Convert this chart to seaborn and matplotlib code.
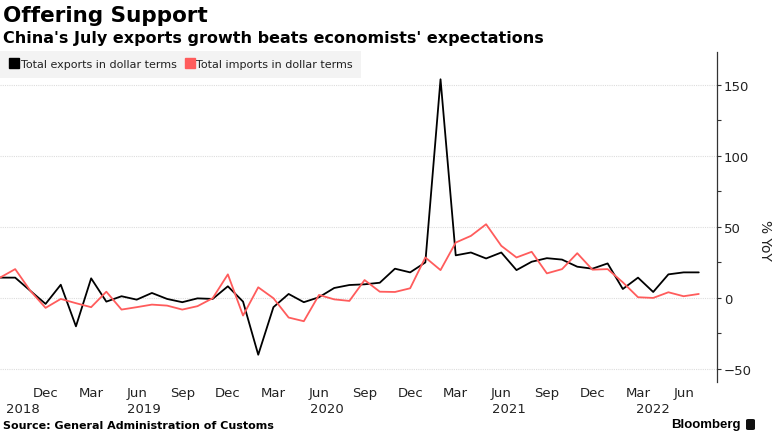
import pandas as pd
import numpy as np
import matplotlib.pyplot as plt
import seaborn as sns
from matplotlib.lines import Line2D
from matplotlib.patches import FancyBboxPatch
import matplotlib.transforms as mtransforms

# monthly data, Sep 2018 .. Jul 2022 (% YoY)
start_year = 2018
start_month = 9
exports = [14.3, 14.3, 5.0, -4.2, 9.3, -20.0, 13.8, -2.6, 1.2, -1.2, 3.5, -0.7,
           -3.0, -0.3, -0.7, 8.2, -2.6, -40.0, -6.5, 2.8, -3.0, 0.5, 7.0, 9.1,
           9.6, 10.7, 20.6, 18.0, 25.0, 154.0, 30.0, 32.0, 27.8, 32.0, 19.6, 25.5,
           28.0, 27.0, 22.0, 20.6, 24.3, 6.3, 14.3, 4.2, 16.6, 18.0, 18.0]
imports = [14.3, 20.3, 5.0, -7.0, -0.7, -3.7, -6.5, 4.4, -8.2, -6.5, -4.7, -5.4,
           -8.2, -5.8, -0.2, 16.6, -12.4, 7.5, -0.2, -13.8, -16.4, 2.1, -1.0, -2.1,
           12.6, 4.4, 4.2, 6.8, 28.5, 19.6, 39.0, 43.7, 51.9, 36.7, 28.5, 32.5,
           17.3, 20.3, 31.5, 19.9, 20.3, 11.0, 0.5, 0.0, 4.0, 1.2, 2.8]
series_names = ["Total exports in dollar terms", "Total imports in dollar terms"]
colors = ["#000000", "#ff5c5c"]
month_names = ["Jan", "Feb", "Mar", "Apr", "May", "Jun",
               "Jul", "Aug", "Sep", "Oct", "Nov", "Dec"]
y_ticks = [-50, 0, 50, 100, 150]

n = len(exports)
idx = np.arange(n)
month_num = [(start_month - 1 + i) % 12 + 1 for i in idx]
year_num = [start_year + (start_month - 1 + i) // 12 for i in idx]

df = pd.DataFrame({"idx": np.concatenate([idx, idx]),
                   "value": exports + imports,
                   "series": [series_names[0]] * n + [series_names[1]] * n})

sns.set_style("white")
plt.rcParams['font.family'] = ['DejaVu Sans']
plt.rcParams['text.color'] = 'black'

fig = plt.figure(figsize=(7.75, 4.35), dpi=100)
ax = fig.add_axes([0.0, 1 - 383 / 435, 717 / 775, (383 - 53) / 435])

sns.lineplot(data=df, x="idx", y="value", hue="series", palette=colors,
             linewidth=1.3, legend=False, ax=ax)

ax.set_xlim(0, 47.2)
ax.set_ylim(-59.2, 173.2)

# right-hand y axis
ax.yaxis.tick_right()
ax.set_yticks(y_ticks)
ax.set_yticks([-25, 25, 75, 125], minor=True)
ax.tick_params(axis="y", which="both", direction="out", length=3, width=0.8,
               color="#333333", labelsize=9.5, pad=2, labelcolor="#222222")
ax.yaxis.grid(True, which="major", color="#dddddd", linestyle=(0, (1, 1)), linewidth=0.8)
ax.xaxis.grid(False)
for s in ["top", "left", "bottom"]:
    ax.spines[s].set_visible(False)
ax.spines["right"].set_color("#333333")
ax.spines["right"].set_linewidth(0.9)
ax.set_xlabel("")
ax.set_ylabel("")
fig.text(765 / 775, 1 - 240 / 435, "% YoY", rotation=270, ha="center", va="center",
         fontsize=10, color="#222222")

# month ticks every quarter
tick_pos = [i for i in idx if month_num[i] in (3, 6, 9, 12) and i > 0]
ax.set_xticks(tick_pos)
ax.set_xticklabels([month_names[month_num[i] - 1] for i in tick_pos],
                   fontsize=9.5, color="#222222")
ax.tick_params(axis="x", length=0, pad=3)

# year labels centred on each year's span
trans = mtransforms.blended_transform_factory(ax.transData, fig.transFigure)
for yr in sorted(set(year_num)):
    pos = [i for i in idx if year_num[i] == yr]
    ax.text((pos[0] + pos[-1]) / 2, 1 - 410 / 435, str(yr), transform=trans,
            ha="center", va="center", fontsize=9.5, color="#222222")

# titles
fig.text(3 / 775, 1 - 16 / 435, "Offering Support", fontsize=15.5, fontweight="bold",
         ha="left", va="center")
fig.text(3 / 775, 1 - 39 / 435, "China's July exports growth beats economists' expectations",
         fontsize=11.5, fontweight="bold", ha="left", va="center")

# legend
handles = [Line2D([], [], marker="s", linestyle="none", color=c, markersize=6.5)
           for c in colors]
leg = fig.legend(handles, series_names, loc="upper left",
                 bbox_to_anchor=(0, 1 - 52 / 435), ncol=2, frameon=True,
                 fontsize=8, handletextpad=0.1, columnspacing=0.7,
                 handlelength=1.0, borderpad=0.75, borderaxespad=0)
leg.get_frame().set_facecolor("#f0f0f0")
leg.get_frame().set_edgecolor("none")
leg.get_frame().set_boxstyle("square", pad=0)
for t in leg.get_texts():
    t.set_color("#222222")

# footer
fig.text(3 / 775, 1 - 426 / 435, "Source: General Administration of Customs",
         fontsize=8, fontweight="bold", ha="left", va="center")
fig.text(741 / 775, 1 - 425 / 435, "Bloomberg", fontsize=9.5, fontweight="bold",
         ha="right", va="center", family=["Liberation Sans", "DejaVu Sans"])
fig.patches.append(FancyBboxPatch((746 / 775, 1 - 431 / 435), 9 / 775, 11 / 435,
                                  boxstyle="round,pad=0,rounding_size=0.003",
                                  transform=fig.transFigure, facecolor="#111111",
                                  edgecolor="none"))

fig.savefig("out.png", dpi=100)
